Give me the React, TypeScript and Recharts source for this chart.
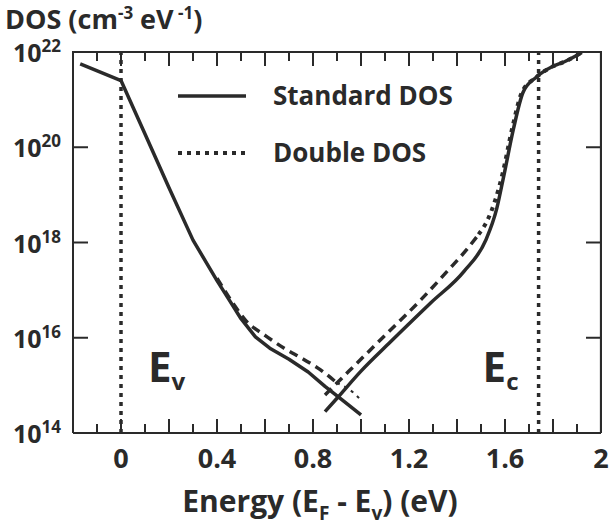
import React from 'react';
import { LineChart, Line, XAxis, YAxis, ReferenceLine, Legend } from 'recharts';

// energy (eV) and log10(DOS)
const stdValenceX = [-0.17, 0, 0.1, 0.2, 0.3, 0.4, 0.45, 0.5, 0.56, 0.62, 0.7, 0.78, 0.85, 0.92, 1.0];
const stdValenceY = [21.75, 21.4, 20.28, 19.15, 18.05, 17.2, 16.8, 16.4, 16.02, 15.78, 15.55, 15.28, 14.98, 14.7, 14.38];

const stdConductionX = [0.85, 0.9, 1.0, 1.12, 1.29, 1.43, 1.52, 1.565, 1.595, 1.635, 1.675, 1.73, 1.8, 1.85, 1.9, 1.92];
const stdConductionY = [14.45, 14.73, 15.3, 15.9, 16.73, 17.4, 18.05, 18.7, 19.4, 20.38, 21.15, 21.47, 21.7, 21.8, 21.93, 21.99];

const dblValenceDashX = [0.4, 0.47, 0.52, 0.6, 0.68, 0.76, 0.83, 0.9];
const dblValenceDashY = [17.25, 16.7, 16.36, 16.05, 15.78, 15.55, 15.33, 15.05];
const dblValenceDotX = [0.9, 0.97, 1.0];
const dblValenceDotY = [15.05, 14.84, 14.69];

const dblConductionDashX = [0.85, 0.95, 1.09, 1.25, 1.36, 1.44, 1.49];
const dblConductionDashY = [14.8, 15.3, 16.0, 16.8, 17.4, 17.85, 18.17];
const dblConductionDotX = [1.49, 1.53, 1.56, 1.59, 1.63, 1.67, 1.73, 1.8, 1.85, 1.9, 1.92];
const dblConductionDotY = [18.17, 18.5, 18.9, 19.45, 20.4, 21.15, 21.47, 21.7, 21.8, 21.93, 21.99];

const xTicks = [-0.1, 0, 0.1, 0.2, 0.3, 0.4, 0.5, 0.6, 0.7, 0.8, 0.9, 1.0, 1.1, 1.2, 1.3, 1.4, 1.5, 1.6, 1.7, 1.8, 1.9, 2];
const xTickLabels = [0, 0.4, 0.8, 1.2, 1.6, 2];
const yTicks = [14, 16, 18, 20, 22];
const rightTicks = [16, 18, 20];
const bandEdges = [0, 1.74];

const legendItems = [
  { label: 'Standard DOS', dash: undefined as string | undefined },
  { label: 'Double DOS', dash: '4 5' },
];

const INK = '#2a2a2a';
const FONT = "'Open Sans', sans-serif";
const X_MIN = -0.2;
const X_MAX = 2;
const Y_MIN = 14;
const Y_MAX = 22;
// frame edges pulled in a hair so float rounding doesn't drop them as out of range
const EDGE_X = X_MAX - 0.0005;
const EDGE_Y = Y_MAX - 0.001;
// tick lengths converted to data units (about 47.5 px per decade, 240 px per eV)
const TOP_MAJOR = 14 / 47.5;
const TOP_MINOR = 9 / 47.5;
const SIDE_LEN = 15 / 240;

const pts = (xs: number[], ys: number[]) => xs.map((x, i) => ({ x, y: ys[i] }));
const isMajor = (v: number) => Math.round(v * 10) % 2 === 0;

const BottomTick = (props: any) => {
  const { x, y, payload } = props;
  const v = payload.value;
  return (
    <g>
      {v !== X_MAX && <line x1={x} y1={y} x2={x} y2={y - (isMajor(v) ? 14 : 9)} stroke={INK} strokeWidth={2} />}
      {xTickLabels.includes(v) && (
        <text x={x} y={y + 35} textAnchor="middle" fontFamily={FONT} fontWeight={700} fontSize={27} fill={INK}>
          {String(v)}
        </text>
      )}
    </g>
  );
};

const LeftTick = (props: any) => {
  const { x, y, payload } = props;
  const v = payload.value;
  return (
    <g>
      {v !== Y_MIN && v !== Y_MAX && <line x1={x} y1={y} x2={x + 15} y2={y} stroke={INK} strokeWidth={2} />}
      <text x={x - 12} y={y + 10} textAnchor="end" fontFamily={FONT} fontWeight={700} fontSize={25} fill={INK}>
        <tspan>10</tspan>
        <tspan dy={-10} fontSize={17}>{v}</tspan>
      </text>
    </g>
  );
};

const BandLabel = ({ viewBox, dx, main, sub }: any) => {
  const { x, y, height } = viewBox;
  return (
    <text x={x + dx} y={y + height - 51} fontFamily={FONT} fontWeight={700} fontSize={42} fill={INK}>
      <tspan>{main}</tspan>
      <tspan fontSize={24} dy={8}>{sub}</tspan>
    </text>
  );
};

const AxisTitle = ({ viewBox }: any) => {
  const { x, y, width } = viewBox;
  return (
    <text x={x + width / 2 - 17} y={y + 79} textAnchor="middle" fontFamily={FONT} fontWeight={700} fontSize={30} fill={INK}>
      <tspan>Energy (E</tspan>
      <tspan fontSize={19} dy={8}>F</tspan>
      <tspan dy={-8}> - E</tspan>
      <tspan fontSize={19} dy={8}>v</tspan>
      <tspan dy={-8}>) (eV)</tspan>
    </text>
  );
};

const LegendBox = () => (
  <svg width={330} height={100}>
    {legendItems.map((item, i) => (
      <g key={item.label}>
        <line x1={0} x2={68} y1={18 + i * 57} y2={18 + i * 57} stroke={INK} strokeWidth={item.dash ? 4 : 3.5} strokeDasharray={item.dash} />
        <text x={95} y={27 + i * 57} fontFamily={FONT} fontWeight={700} fontSize={26} fill={INK}>
          {item.label}
        </text>
      </g>
    ))}
  </svg>
);

export default function App() {
  return (
    <div style={{ position: 'absolute', left: 0, top: 0, width: 613, height: 528, background: '#fff' }}>
      <div style={{ position: 'absolute', left: 5, top: 4, lineHeight: '30px', fontFamily: FONT, fontWeight: 700, fontSize: 27, color: INK, whiteSpace: 'nowrap' }}>
        DOS (cm<sup style={{ fontSize: 17, lineHeight: 0 }}>-3</sup> eV<sup style={{ fontSize: 17, lineHeight: 0 }}> -1</sup>)
      </div>
      <LineChart width={613} height={528} margin={{ top: 52, right: 12, bottom: 0, left: 0 }}>
        <XAxis
          dataKey="x"
          type="number"
          domain={[X_MIN, X_MAX]}
          allowDataOverflow
          ticks={xTicks}
          interval={0}
          tickSize={0}
          tickMargin={0}
          tick={<BottomTick />}
          height={95}
          axisLine={{ stroke: INK, strokeWidth: 2 }}
          label={<AxisTitle />}
        />
        <YAxis
          type="number"
          domain={[Y_MIN, Y_MAX]}
          allowDataOverflow
          ticks={yTicks}
          interval={0}
          tickSize={0}
          tickMargin={0}
          tick={<LeftTick />}
          width={73}
          axisLine={{ stroke: INK, strokeWidth: 2 }}
        />
        {/* top and right frame with inward ticks */}
        <ReferenceLine y={EDGE_Y} stroke={INK} strokeWidth={2} />
        <ReferenceLine x={EDGE_X} stroke={INK} strokeWidth={2} />
        {xTicks.filter((v) => v !== X_MAX).map((v) => (
          <ReferenceLine
            key={`t${v}`}
            segment={[{ x: v, y: EDGE_Y }, { x: v, y: Y_MAX - (isMajor(v) ? TOP_MAJOR : TOP_MINOR) }]}
            stroke={INK}
            strokeWidth={2}
          />
        ))}
        {rightTicks.map((v) => (
          <ReferenceLine
            key={`r${v}`}
            segment={[{ x: X_MAX - SIDE_LEN, y: v }, { x: EDGE_X, y: v }]}
            stroke={INK}
            strokeWidth={2}
          />
        ))}
        <ReferenceLine
          x={bandEdges[0]}
          stroke={INK}
          strokeWidth={3.5}
          strokeDasharray="4 5"
          label={<BandLabel dx={27} main="E" sub="v" />}
        />
        <ReferenceLine
          x={bandEdges[1]}
          stroke={INK}
          strokeWidth={3.5}
          strokeDasharray="4 5"
          label={<BandLabel dx={-56} main="E" sub="c" />}
        />
        <Legend
          layout="horizontal"
          verticalAlign="middle"
          align="center"
          content={<LegendBox />}
          wrapperStyle={{ position: 'absolute', left: 178, top: 78, width: 330 }}
        />
        <Line data={pts(stdValenceX, stdValenceY)} dataKey="y" type="linear" stroke={INK} strokeWidth={3.5} strokeLinejoin="round" dot={false} isAnimationActive={false} />
        <Line data={pts(stdConductionX, stdConductionY)} dataKey="y" type="monotone" stroke={INK} strokeWidth={3.5} dot={false} isAnimationActive={false} />
        <Line data={pts(dblValenceDashX, dblValenceDashY)} dataKey="y" type="monotone" stroke={INK} strokeWidth={3.5} strokeDasharray="9 6" dot={false} isAnimationActive={false} />
        <Line data={pts(dblValenceDotX, dblValenceDotY)} dataKey="y" type="monotone" stroke={INK} strokeWidth={2} strokeDasharray="3 5" dot={false} isAnimationActive={false} />
        <Line data={pts(dblConductionDashX, dblConductionDashY)} dataKey="y" type="monotone" stroke={INK} strokeWidth={3.5} strokeDasharray="9 6" dot={false} isAnimationActive={false} />
        <Line data={pts(dblConductionDotX, dblConductionDotY)} dataKey="y" type="monotone" stroke={INK} strokeWidth={4} strokeDasharray="4 5" dot={false} isAnimationActive={false} />
      </LineChart>
      {/* fallback top/right border of the plot box */}
      <div style={{ position: 'absolute', left: 72, top: 51, width: 528, height: 380, borderTop: `2px solid ${INK}`, borderRight: `2px solid ${INK}`, pointerEvents: 'none' }} />
    </div>
  );
}
